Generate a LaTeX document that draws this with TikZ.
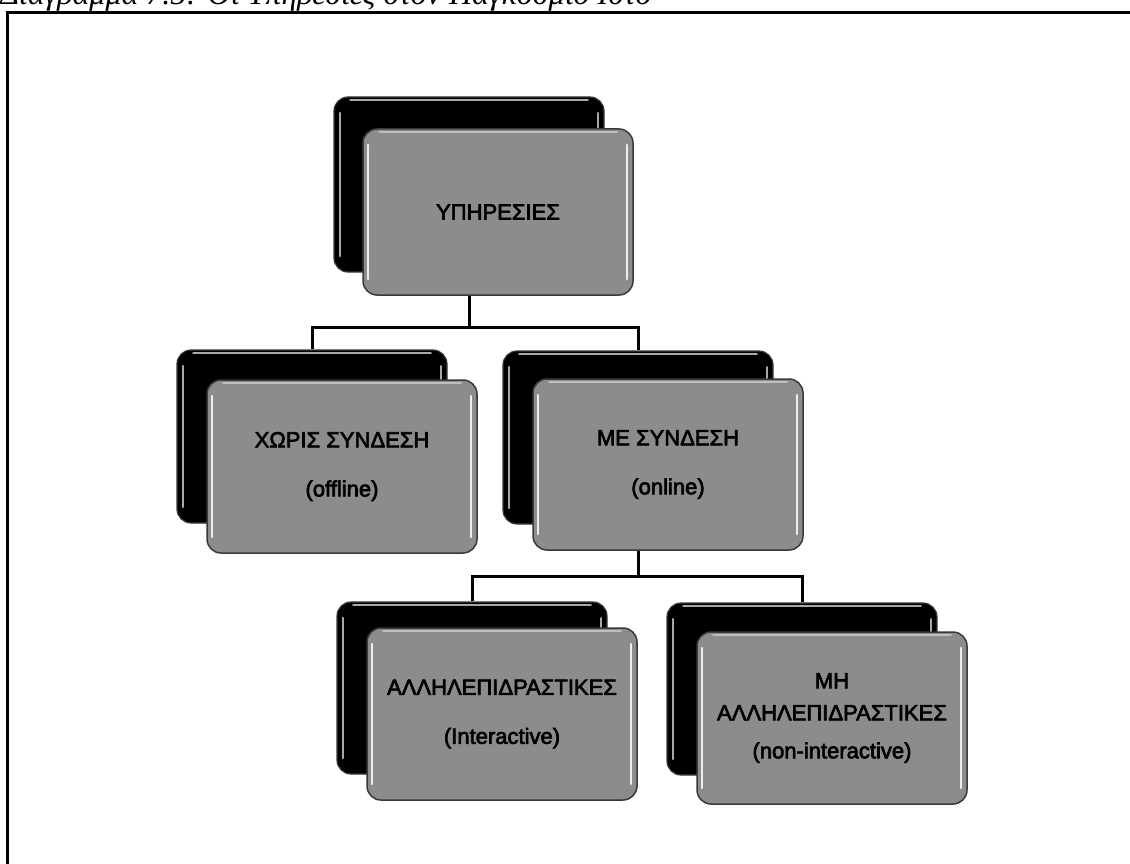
\documentclass[tikz,border=0pt]{standalone}
\usepackage{fontspec}
\setmainfont{Liberation Sans}
\newfontfamily\capfont{Liberation Serif}
\newfontfamily\boxfont[FakeBold=3]{Liberation Sans}
\usetikzlibrary{calc}

\definecolor{facegray}{HTML}{8C8C8C}
\definecolor{edgegray}{HTML}{3A3A3A}
\definecolor{glintgray}{HTML}{A8A8A8}

\tikzset{
  backbox/.style={
    draw=edgegray, line width=1.2pt, fill=black, rounded corners=14pt,
    minimum width=270pt, minimum height=173pt, inner sep=0pt,
    path picture={
      \draw[glintgray, line width=2.5pt, line cap=round]
        ([xshift=6pt,yshift=-16pt]path picture bounding box.north west) --
        ([xshift=6pt,yshift=16pt]path picture bounding box.south west);
      \draw[glintgray, line width=2pt, line cap=round]
        ([xshift=-6pt,yshift=-16pt]path picture bounding box.north east) --
        ([xshift=-6pt,yshift=16pt]path picture bounding box.south east);
      \draw[glintgray, line width=1.5pt, line cap=round]
        ([xshift=16pt,yshift=-3pt]path picture bounding box.north west) --
        ([xshift=-16pt,yshift=-3pt]path picture bounding box.north east);
    }},
  frontbox/.style={
    draw=edgegray, line width=1.5pt, fill=facegray, rounded corners=14pt,
    minimum width=270pt, minimum height=173pt, inner sep=0pt,
    align=center, font=\boxfont\fontsize{22}{32}\selectfont,
    path picture={
      \draw[white, opacity=.85, line width=2.5pt, line cap=round]
        ([xshift=5pt,yshift=-16pt]path picture bounding box.north west) --
        ([xshift=5pt,yshift=16pt]path picture bounding box.south west);
      \draw[white, opacity=.85, line width=2.5pt, line cap=round]
        ([xshift=-6pt,yshift=-16pt]path picture bounding box.north east) --
        ([xshift=-6pt,yshift=16pt]path picture bounding box.south east);
      \draw[white, opacity=.45, line width=1.5pt, line cap=round]
        ([xshift=16pt,yshift=-3pt]path picture bounding box.north west) --
        ([xshift=-16pt,yshift=-3pt]path picture bounding box.north east);
    }},
  conn/.style={line width=3pt, black},
  frame/.style={line width=3pt, black}
}

\begin{document}
\begin{tikzpicture}[x=1pt, y=-1pt]
  \path[use as bounding box, fill=white] (0,0) rectangle (1130,864);
  \clip (0,0) rectangle (1130,864);

  % caption above the frame (only its lower part shows)
  \node[anchor=base west, inner sep=0pt,
        font=\capfont\itshape\fontsize{32}{38}\selectfont] (cap) at (0,5)
        {Διάγραμμα 7.5: Οι Υπηρεσίες στον Παγκόσμιο Ιστό};

  % frame
  \draw[frame] (7,880) -- (7,13) -- (1145,13);

  % root
  \node[backbox, minimum height=175pt] (srvB) at (469,184.5) {};
  \node[frontbox, minimum height=166pt] (srv) at (498,212) {ΥΠΗΡΕΣΙΕΣ};

  % second level
  \node[backbox] (offB) at (312,436.5) {};
  \node[frontbox] (off) at (342,466.5) {ΧΩΡΙΣ ΣΥΝΔΕΣΗ\\[17pt](offline)};

  \node[backbox] (onB) at (638,437.5) {};
  \node[frontbox, minimum height=171pt] (on) at (668,464.5) {ΜΕ ΣΥΝΔΕΣΗ\\[17pt](online)};

  % third level
  \node[backbox, minimum height=172pt] (intB) at (472,688) {};
  \node[frontbox, minimum height=172pt] (int) at (502,714)
        {ΑΛΛΗΛΕΠΙΔΡΑΣΤΙΚΕΣ\\[17pt](Interactive)};

  \node[backbox, minimum height=172pt] (nonB) at (802,689) {};
  \node[frontbox, minimum height=172pt] (non) at (832,718)
        {ΜΗ\\ΑΛΛΗΛΕΠΙΔΡΑΣΤΙΚΕΣ\\[6pt](non-interactive)};

  % connectors
  \draw[conn] (srvB |- srv.south) -- ++(0,32) -| (offB.north);
  \draw[conn] (srvB |- srv.south) -- ++(0,32) -| (onB.north);
  \draw[conn] (onB |- on.south) -- ++(0,26) -| (intB.north);
  \draw[conn] (onB |- on.south) -- ++(0,26) -| (nonB.north);
\end{tikzpicture}
\end{document}
